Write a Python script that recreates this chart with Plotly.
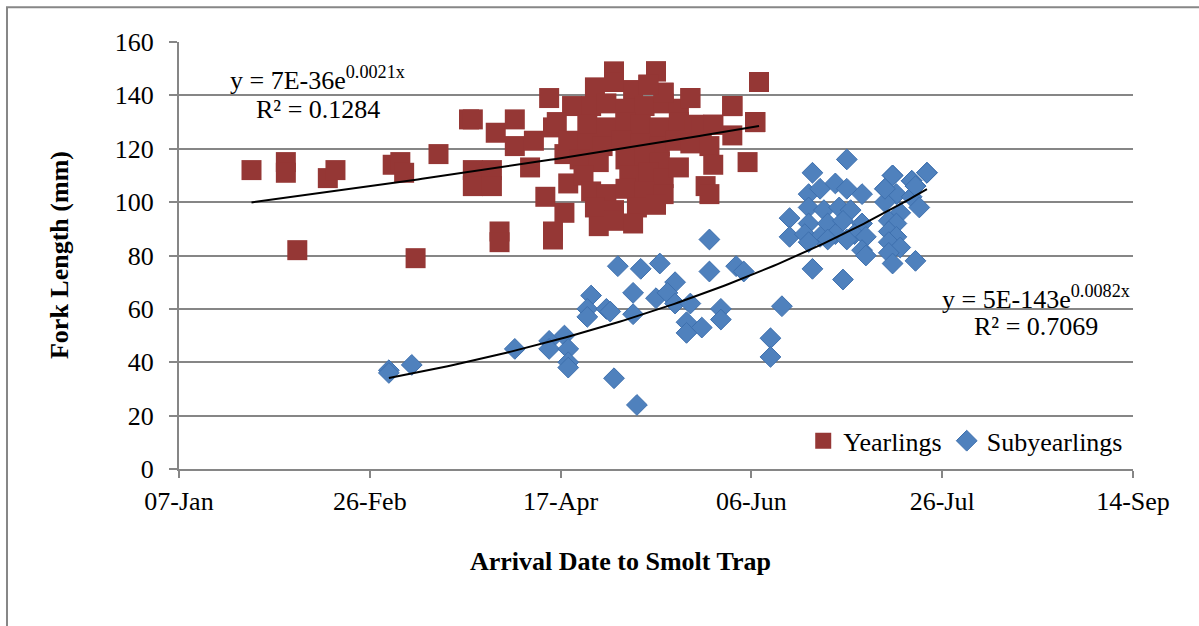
import numpy as np
import pandas as pd
import plotly.graph_objects as go

# Arrival dates as Excel serial numbers (2011), fork lengths in mm
yearling_date = [
    40569, 40578, 40578, 40581, 40589, 40591, 40606, 40608, 40609, 40612,
    40618, 40626, 40627, 40627, 40627, 40632, 40632, 40633, 40634, 40634,
    40638, 40638, 40643, 40642, 40646, 40648, 40648, 40647, 40653, 40648,
    40651, 40652, 40651,
    40664, 40675,
    40659, 40664, 40669, 40673, 40677,
    40658, 40662, 40667, 40672, 40677, 40681,
    40649, 40657, 40662, 40667, 40671, 40676, 40681, 40685,
    40652, 40657, 40661, 40666, 40671, 40676, 40680, 40684,
    40655, 40660, 40667, 40672, 40676,
    40656, 40668, 40673, 40677,
    40658, 40662, 40667, 40672, 40677,
    40659, 40664, 40670, 40675,
    40660, 40664, 40669,
    40684, 40690, 40689, 40690, 40688, 40689, 40681, 40687, 40695, 40695,
    40699, 40701, 40702,
    40684, 40690, 40695, 40695, 40701, 40701, 40702, 40675, 40677, 40673,
]
yearling_fl = [
    112, 115, 111, 82, 109, 112, 114, 115, 111, 79,
    118, 131, 131, 112, 106, 112, 106, 126, 89, 85,
    131, 121, 123, 113, 102, 89, 86, 139, 136, 128,
    118, 107, 96,
    149, 149,
    143, 145, 142, 144, 141,
    136, 137, 135, 136, 137, 135,
    130, 129, 128, 130, 129, 128, 130, 129,
    123, 122, 121, 123, 122, 121, 123, 122,
    116, 115, 116, 117, 115,
    110, 110, 111, 109,
    104, 103, 105, 104, 103,
    98, 97, 98, 99,
    91, 93, 92,
    139, 129, 121, 114, 106, 103, 113, 128, 136, 125,
    115, 130, 145,
    139, 129, 136, 136, 130, 130, 145, 149, 141, 144,
]

sub_date = [
    40605, 40605, 40611, 40638, 40647, 40647, 40651, 40652, 40652, 40652,
    40658, 40657, 40657, 40665, 40664, 40670, 40671, 40669, 40669, 40662,
    40663, 40676, 40675, 40680, 40678, 40680, 40684, 40683, 40683, 40687,
    40689, 40689, 40692, 40692, 40696, 40698, 40705, 40705, 40708,
    40725, 40716, 40710, 40710, 40716, 40724, 40729,
    40715, 40718, 40722, 40725, 40715, 40719, 40723, 40726, 40715, 40720,
    40724, 40729, 40714, 40718, 40722, 40727, 40715, 40720, 40725, 40730,
    40729, 40730,
    40737, 40735, 40738, 40735, 40739, 40736, 40738, 40736, 40738, 40736,
    40739, 40736, 40737,
    40742, 40743, 40742, 40746, 40744, 40743,
    40746, 40742, 40743, 40737, 40735,
]
sub_fl = [
    37, 36, 39, 45, 48, 45, 50, 45, 40, 38,
    65, 60, 57, 76, 34, 24, 75, 66, 58, 60,
    59, 77, 64, 70, 66, 62, 62, 55, 51, 53,
    86, 74, 60, 56, 76, 74, 49, 42, 61,
    116, 111, 94, 87, 75, 71, 103,
    103, 105, 107, 105, 98, 97, 98, 97, 92, 92,
    93, 92, 88, 87, 88, 88, 85, 86, 86, 87,
    82, 80,
    110, 105, 103, 100, 96, 93, 92, 89, 87, 85,
    83, 81, 77,
    108, 106, 102, 111, 98, 78,
    111, 108, 106, 110, 105,
]

x_tick_serial = [40550, 40600, 40650, 40700, 40750, 40800]
x_tick_labels = ["07-Jan", "26-Feb", "17-Apr", "06-Jun", "26-Jul", "14-Sep"]
y_tick_vals = [0, 20, 40, 60, 80, 100, 120, 140, 160]

eq_yearling = ["y = 7E-36e<sup>0.0021x</sup>", "R² = 0.1284"]
eq_sub = ["y = 5E-143e<sup>0.0082x</sup>", "R² = 0.7069"]

FONT = "Liberation Serif"
RED = "#953735"
BLUE = "#4F81BD"
GRID = "#868686"


def to_date(serial):
    return pd.to_datetime(np.asarray(serial, dtype=float), unit="D", origin="1899-12-30")


def exp_trend(xs, ys):
    xs = np.asarray(xs, dtype=float)
    ys = np.asarray(ys, dtype=float)
    x0 = xs.mean()
    b, ln_a = np.polyfit(xs - x0, np.log(ys), 1)
    xx = np.linspace(xs.min(), xs.max(), 120)
    return xx, np.exp(ln_a + b * (xx - x0))


fig = go.Figure()

fig.add_trace(go.Scatter(
    x=to_date(yearling_date), y=yearling_fl, mode="markers", name="Yearlings",
    marker=dict(symbol="square", size=20, color=RED, line=dict(width=0)),
))
fig.add_trace(go.Scatter(
    x=to_date(sub_date), y=sub_fl, mode="markers", name="Subyearlings",
    marker=dict(symbol="diamond", size=16, color=BLUE, line=dict(width=1, color="#3E70AE")),
))

for xs, ys in [(yearling_date, yearling_fl), (sub_date, sub_fl)]:
    tx, ty = exp_trend(xs, ys)
    fig.add_trace(go.Scatter(
        x=to_date(tx), y=ty, mode="lines", showlegend=False, hoverinfo="skip",
        line=dict(color="black", width=2),
    ))

annotations = [
    dict(text=eq_yearling[0], x=0.1457, y=0.915),
    dict(text=eq_yearling[1], x=0.1457, y=0.8426),
    dict(text=eq_sub[0], x=0.8983, y=0.4006),
    dict(text=eq_sub[1], x=0.8983, y=0.3328),
]
ann = []
for a in annotations:
    ann.append(dict(xref="paper", yref="paper", xanchor="center", yanchor="middle",
                    showarrow=False, font=dict(family=FONT, size=26, color="black"), **a))
ann.append(dict(xref="paper", yref="paper", x=-0.1247, y=0.5012, text="<b>Fork Length (mm)</b>",
                textangle=-90, showarrow=False, xanchor="center", yanchor="middle",
                font=dict(family=FONT, size=26, color="black")))
ann.append(dict(xref="paper", yref="paper", x=0.4623, y=-0.2168, text="<b>Arrival Date to Smolt Trap</b>",
                showarrow=False, xanchor="center", yanchor="middle",
                font=dict(family=FONT, size=26, color="black")))

fig.update_layout(
    width=1199, height=626,
    margin=dict(l=179, r=66, t=42, b=157),
    paper_bgcolor="white", plot_bgcolor="white",
    font=dict(family=FONT, size=26, color="black"),
    annotations=ann,
    showlegend=True,
    legend=dict(orientation="h", x=0.995, xanchor="right", y=0.066, yanchor="middle",
                bgcolor="rgba(0,0,0,0)", font=dict(family=FONT, size=26, color="black"),
                itemwidth=30, tracegroupgap=0),
    shapes=[dict(type="rect", xref="paper", yref="paper",
                 x0=-0.1803, x1=1.08, y0=-0.38, y1=1.0815,
                 line=dict(color="#878787", width=2), fillcolor="rgba(0,0,0,0)", layer="below")],
)

fig.update_xaxes(
    range=list(to_date([x_tick_serial[0], x_tick_serial[-1]])),
    tickmode="array", tickvals=to_date(x_tick_serial), ticktext=x_tick_labels,
    showgrid=False, zeroline=False, showline=True, linecolor=GRID, linewidth=2,
    ticks="outside", ticklen=7, tickwidth=2, tickcolor=GRID,
    tickfont=dict(family=FONT, size=26, color="black"), ticklabelstandoff=1,
)
fig.update_yaxes(
    range=[0, 160], tickmode="array", tickvals=y_tick_vals,
    showgrid=True, gridcolor=GRID, gridwidth=2, zeroline=False,
    showline=True, linecolor=GRID, linewidth=2,
    ticks="outside", ticklen=8, tickwidth=2, tickcolor=GRID,
    tickfont=dict(family=FONT, size=26, color="black"), ticklabelstandoff=10,
)

fig.write_html("out.html")
